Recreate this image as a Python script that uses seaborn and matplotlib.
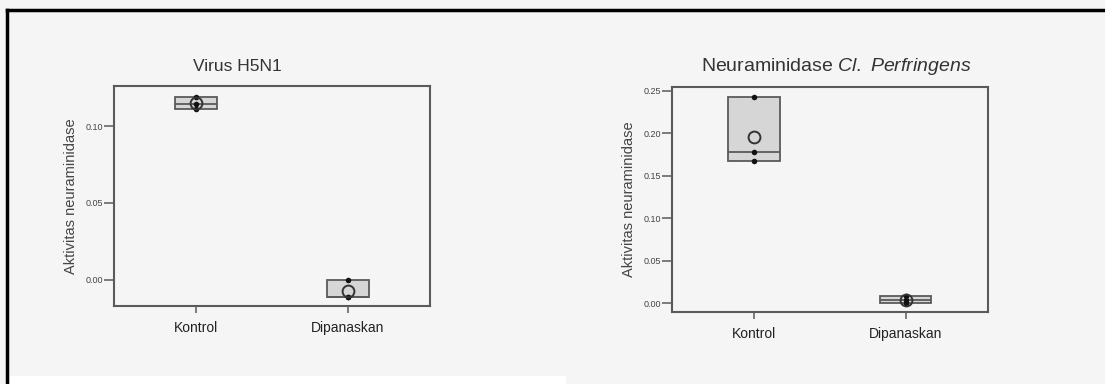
import matplotlib.pyplot as plt
import numpy as np
import pandas as pd
import seaborn as sns
from matplotlib.lines import Line2D
from matplotlib.patches import Rectangle

# 群名
groups = ["Kontrol", "Dipanaskan"]

# Virus H5N1 の測定値 (3 回)
h5n1_kontrol = [0.119, 0.1145, 0.111]
h5n1_dipanaskan = [0.000, -0.011, -0.011]

# Neuraminidase Cl. Perfringens の測定値 (3 回)
clp_kontrol = [0.243, 0.178, 0.167]
clp_dipanaskan = [0.008, 0.0035, 0.000]

h5n1_ticks = [0.00, 0.05, 0.10]
clp_ticks = [0.00, 0.05, 0.10, 0.15, 0.20, 0.25]

BG = "#f5f5f5"
EDGE = "#5a5a5a"
FILL = "#d6d6d6"


def make_df(a, b):
    return pd.DataFrame(
        {"group": [groups[0]] * len(a) + [groups[1]] * len(b), "value": a + b}
    )


def draw_panel(ax, df, ticks, ylim, box_width, title_parts, title_x):
    # 測定点
    sns.stripplot(
        data=df, x="group", y="value", order=groups, jitter=False,
        color="#111111", size=4, ax=ax, zorder=3,
    )

    # 箱 (SPSS と同じ (n+1)p 方式のヒンジ)
    stats = []
    for g in groups:
        v = df.loc[df["group"] == g, "value"].to_numpy()
        q1, med, q3 = np.percentile(v, [25, 50, 75], method="weibull")
        stats.append(dict(med=med, q1=q1, q3=q3, whislo=q1, whishi=q3, fliers=[]))
    ax.bxp(
        stats, positions=[0, 1], widths=box_width, patch_artist=True,
        showcaps=False, manage_ticks=False,
        boxprops=dict(facecolor=FILL, edgecolor=EDGE, linewidth=1.3),
        medianprops=dict(color=EDGE, linewidth=1.3),
        whiskerprops=dict(color=EDGE, linewidth=1.3),
    )

    # 平均値 (白抜きの丸)
    sns.pointplot(
        data=df, x="group", y="value", order=groups, estimator="mean",
        errorbar=None, markers="o", linestyles="none", color="#333333",
        markersize=8.5, markerfacecolor="none", markeredgewidth=1.4, ax=ax,
        zorder=4,
    )

    ax.set_xlim(-0.54, 1.54)
    ax.set_ylim(*ylim)
    ax.set_yticks(ticks)
    ax.set_yticklabels([f"{t:.2f}" for t in ticks])
    ax.set_xlabel("")
    ax.set_ylabel("Aktivitas neuraminidase", fontsize=10.5, color="#444444", labelpad=5)
    ax.set_facecolor(BG)
    for s in ax.spines.values():
        s.set_color(EDGE)
        s.set_linewidth(1.5)
    ax.tick_params(axis="y", length=7, width=1.1, color=EDGE, labelsize=6.5,
                   labelcolor="#444444", pad=1)
    ax.tick_params(axis="x", length=5, width=1.1, color=EDGE, labelsize=10,
                   labelcolor="#222222", pad=6)

    ax.text(title_x, 1.09, title_parts[0], transform=ax.transAxes,
            ha="center", va="center", fontsize=title_parts[1], color="#333333")


plt.rcParams["font.family"] = ["Liberation Sans", "DejaVu Sans"]
plt.rcParams["mathtext.fontset"] = "custom"
plt.rcParams["mathtext.rm"] = "Liberation Sans"
plt.rcParams["mathtext.it"] = "Liberation Sans:italic"

fig = plt.figure(figsize=(11.05, 3.84), dpi=100, facecolor=BG)

ax1 = fig.add_axes([0.1032, 0.2031, 0.286, 0.573])
draw_panel(ax1, make_df(h5n1_kontrol, h5n1_dipanaskan), h5n1_ticks,
           (-0.0169, 0.126), 0.28, ("Virus H5N1", 12.5), 0.39)

ax2 = fig.add_axes([0.6081, 0.1875, 0.286, 0.586])
draw_panel(ax2, make_df(clp_kontrol, clp_dipanaskan), clp_ticks,
           (-0.0106, 0.2547), 0.336,
           ("Neuraminidase $\\mathit{Cl.}$ $\\mathit{Perfringens}$", 14), 0.52)

# 外枠
fig.add_artist(Rectangle((0.009, 0.0), 0.503, 0.021, transform=fig.transFigure,
                         facecolor="white", edgecolor="none"))
fig.add_artist(Line2D([0.0063, 1.0], [0.973, 0.973], color="black", lw=2.5,
                      transform=fig.transFigure))
fig.add_artist(Line2D([0.0063, 0.0063], [0.0, 0.973], color="black", lw=2.5,
                      transform=fig.transFigure))

fig.savefig("out.png", dpi=100, facecolor=BG)
